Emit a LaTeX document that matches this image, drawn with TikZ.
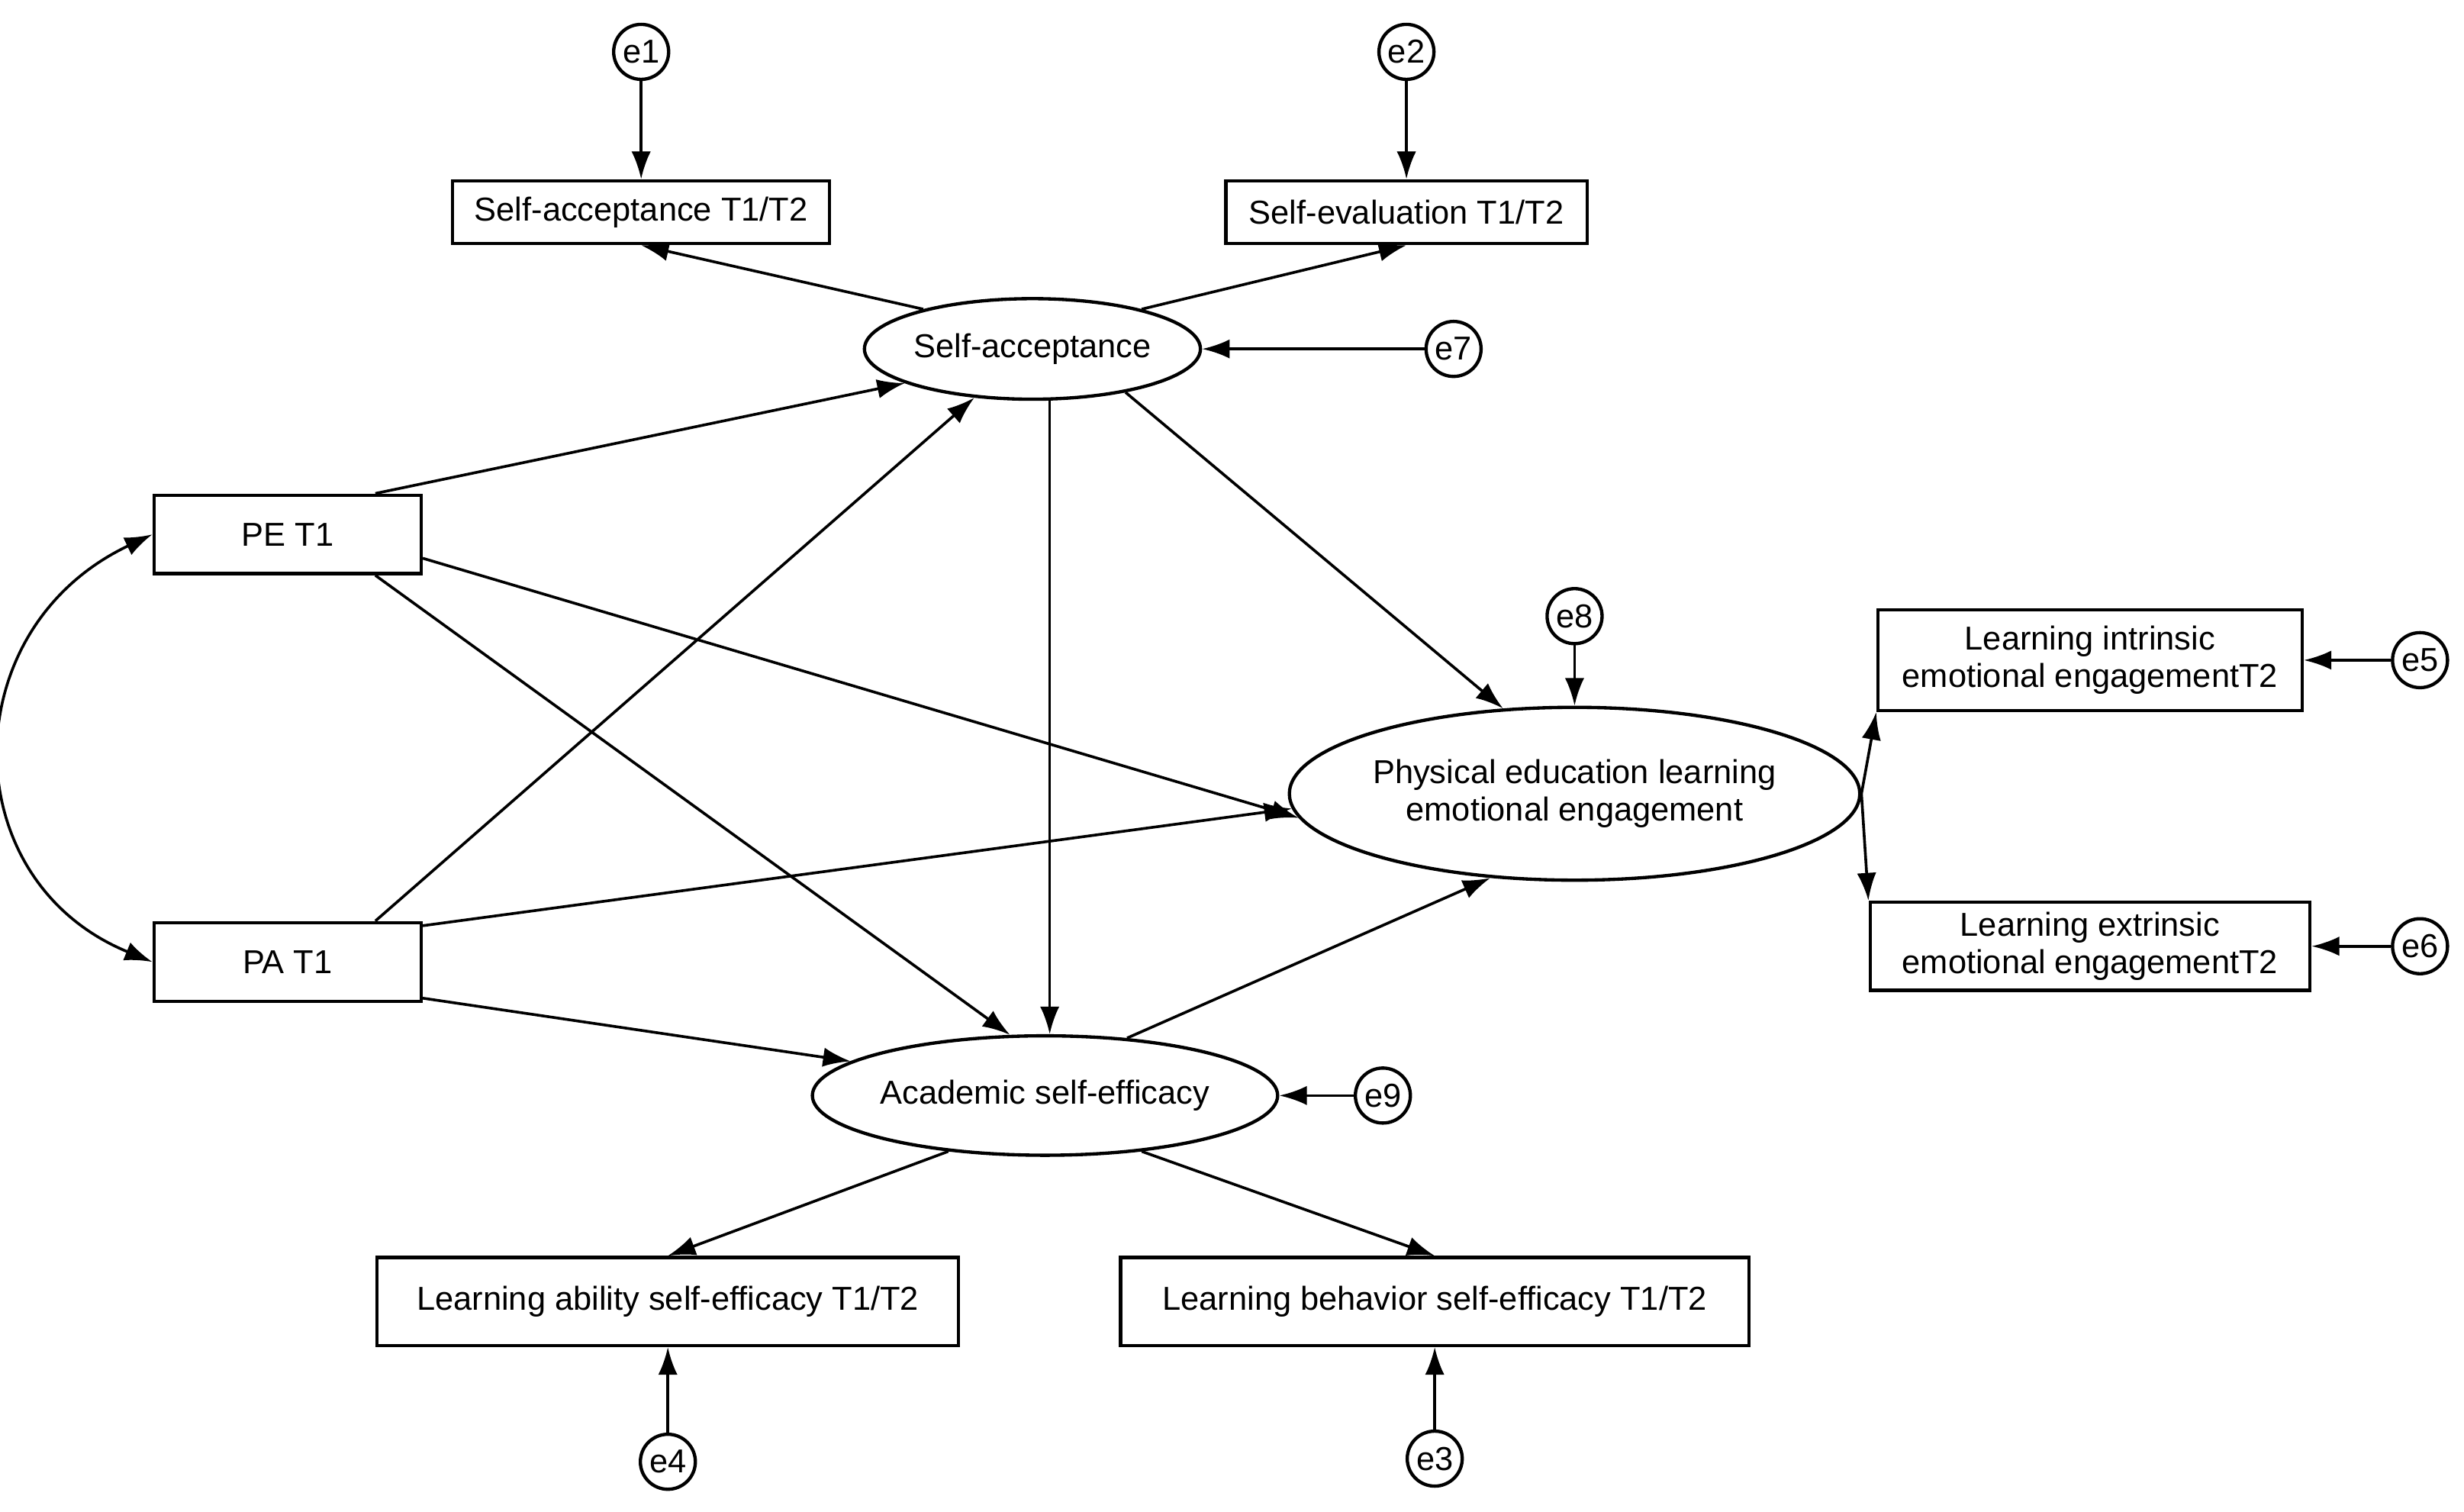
\documentclass[tikz,border=0pt]{standalone}
\usepackage{fontspec}
\setmainfont{Liberation Sans}
\usetikzlibrary{arrows.meta,shapes.geometric}
\begin{document}
\begin{tikzpicture}[x=0.02cm,y=-0.02cm,
  font=\fontsize{12}{13.5}\selectfont,
  every path/.style={line width=1pt},
  box/.style={draw,rectangle,line width=1.2pt,inner sep=0pt,align=center},
  lat/.style={draw,ellipse,line width=1.2pt,inner sep=0pt,align=center},
  err/.style={draw,circle,line width=1.2pt,inner sep=0pt,minimum size=0.7cm},
  arr/.style={-{Latex[length=10pt,width=7pt]}},
  darr/.style={{Latex[length=10pt,width=7pt]}-{Latex[length=10pt,width=7pt]}}]
\useasboundingbox (0,0) rectangle (1568,961.5);
% observed
\node[box,minimum width=4.8cm,minimum height=0.8cm] (sab) at (408,135) {Self-acceptance T1/T2};
\node[box,minimum width=4.6cm,minimum height=0.8cm] (seb) at (895,135) {Self-evaluation T1/T2};
\node[box,minimum width=3.4cm,minimum height=1.0cm] (pe) at (183,340) {PE T1};
\node[box,minimum width=3.4cm,minimum height=1.0cm] (pa) at (183,612) {PA T1};
\node[box,minimum width=5.4cm,minimum height=1.28cm] (lin) at (1330,420) {Learning intrinsic\\emotional engagementT2};
\node[box,minimum width=5.6cm,minimum height=1.12cm] (lex) at (1330,602) {Learning extrinsic\\emotional engagementT2};
\node[box,minimum width=7.4cm,minimum height=1.12cm] (lab) at (425,828) {Learning ability self-efficacy T1/T2};
\node[box,minimum width=8.0cm,minimum height=1.12cm] (lbb) at (913,828) {Learning behavior self-efficacy T1/T2};
% latent
\node[lat,minimum width=4.2cm,minimum height=1.28cm] (sa) at (657,222) {Self-acceptance};
\node[lat,minimum width=6.5cm,minimum height=2.2cm] (ph) at (1002,505) {Physical education learning\\emotional engagement};
\node[lat,minimum width=5.2cm,minimum height=1.52cm] (ase) at (665,697) {Academic self-efficacy};
% errors
\node[err] (e1) at (408,33) {e1};
\node[err] (e2) at (895,33) {e2};
\node[err] (e7) at (925,222) {e7};
\node[err] (e8) at (1002,392) {e8};
\node[err] (e5) at (1540,420) {e5};
\node[err] (e6) at (1540,602) {e6};
\node[err] (e9) at (880,697) {e9};
\node[err] (e4) at (425,930) {e4};
\node[err] (e3) at (913,928) {e3};
% error arrows
\draw[arr] (e1) -- (sab);
\draw[arr] (e2) -- (seb);
\draw[arr] (e7) -- (sa);
\draw[arr] (e8) -- (ph);
\draw[arr] (e5) -- (lin);
\draw[arr] (e6) -- (lex);
\draw[arr] (e9) -- (ase);
\draw[arr] (e4) -- (lab);
\draw[arr] (e3) -- (lbb);
% measurement
\draw[arr] (sa.160) -- (sab.south);
\draw[arr] (sa.20) -- (seb.south);
\draw[arr] (ase.210) -- (lab.north);
\draw[arr] (ase.330) -- (lbb.north);
\draw[arr] (ph.east) -- (lin.south west);
\draw[arr] (ph.east) -- (lex.north west);
% structural
\draw[arr] (pe.25) -- (sa.195);
\draw[arr] (pe.-10) -- (ph.185);
\draw[arr] (pe.-25) -- (ase.120);
\draw[arr] (pa.25) -- (sa.220);
\draw[arr] (pa.15) -- (ph.183);
\draw[arr] (pa.-15) -- (ase.170);
\draw[arr] (sa.south) ++(11,0) coordinate (s1) (s1) -- (s1|-ase.north);
\draw[arr] (sa.-25) -- (ph.130);
\draw[arr] (ase.35) -- (ph.225);
\draw[darr] (pe.west) .. controls (-30,400) and (-30,560) .. (pa.west);
\end{tikzpicture}
\end{document}
